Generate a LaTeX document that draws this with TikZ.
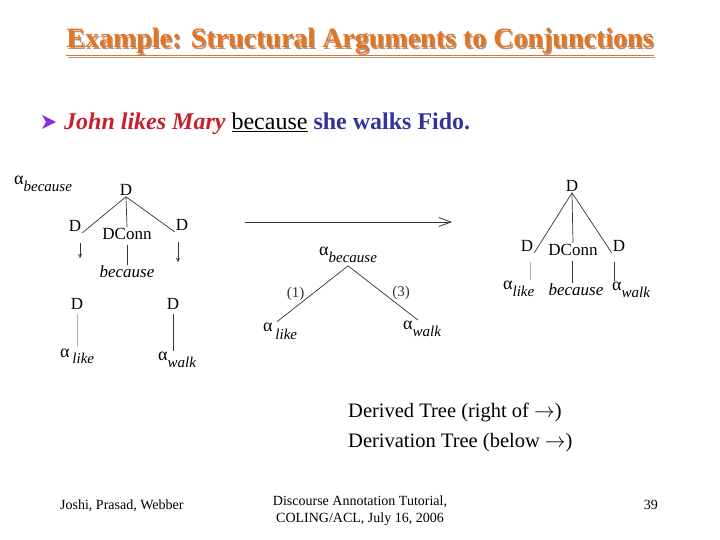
\documentclass[tikz,border=0pt]{standalone}
\usepackage{fontspec}
\setmainfont{Liberation Serif}
\usetikzlibrary{arrows.meta}
\definecolor{titleOrange}{HTML}{E8731E}
\definecolor{titleShadow}{HTML}{B09580}
\definecolor{sentRed}{HTML}{C8202A}
\definecolor{sentBlue}{HTML}{333399}
\definecolor{bulletPurple}{HTML}{8A2BE2}
\definecolor{treeGray}{HTML}{333333}
\definecolor{treeLight}{HTML}{B0B0B0}
\newcommand{\alphaSub}[1]{{\fontsize{18}{18}\selectfont α}\raisebox{-0.85ex}{\fontsize{15}{15}\selectfont\itshape #1}}
\tikzset{
  lbl/.style={inner sep=1pt, font=\fontsize{17}{17}\selectfont},
  lblIt/.style={inner sep=1pt, font=\fontsize{17}{17}\selectfont\itshape},
  lblNum/.style={inner sep=1pt, font=\fontsize{15}{15}\selectfont},
  edge/.style={treeGray, line width=0.7pt},
  edgeL/.style={treeLight, line width=0.7pt},
  footArr/.style={-{To[length=4pt,width=4pt]}, treeGray, line width=0.7pt},
  bigArr/.style={-{Straight Barb[length=12pt,width=9pt]}, treeGray, line width=0.8pt},
  noteTxt/.style={inner sep=0pt, font=\fontsize{20.5}{20.5}\selectfont, anchor=base west},
  footTxt/.style={inner sep=0pt, font=\fontsize{14}{17}\selectfont},
}
\begin{document}
\begin{tikzpicture}[x=1pt, y=-1pt]
  \useasboundingbox (0,0) rectangle (720,540);
  % title with shadow
  \node[titleShadow, font=\fontsize{28}{28}\selectfont\bfseries] (titleSh) at (361.5,43.5)
    {\underline{Example: Structural Arguments to Conjunctions}};
  \node[titleOrange, font=\fontsize{28}{28}\selectfont\bfseries] (title) at (360,42)
    {\underline{Example: Structural Arguments to Conjunctions}};
  % bullet sentence
  \fill[bulletPurple] (42,115) -- (56,122) -- (42,129) -- (46,122) -- cycle;
  \node[inner sep=0pt, anchor=base west, font=\fontsize{24}{24}\selectfont] (sent) at (64,130)
    {{\color{sentRed}\bfseries\itshape John likes Mary} \underline{because}
     {\color{sentBlue}\bfseries she walks Fido.}};

  % elementary tree alpha_because
  \node[lbl, anchor=west] (lAb) at (13,184) {\alphaSub{because}};
  \node[lbl] (lD) at (126,190) {D};
  \node[lbl] (lDl) at (75,226) {D};
  \node[lbl] (lDc) at (127,234) {DConn};
  \node[lbl] (lDr) at (182,225) {D};
  \node[lblIt] (lBec) at (127,272) {because};
  \draw[edge] (lD.south) -- (lDl.south east);
  \draw[edge] (lD.south) -- (lDc.north);
  \draw[edge] (lD.south) -- (lDr.south west);
  \draw[edge] ([yshift=-4pt]lDc.south) -- (lBec.north);
  \coordinate (lFootL) at (80,258);
  \coordinate (lFootR) at (178,262);
  \draw[footArr] ([shift={(5pt,-10pt)}]lDl.south) -- (lFootL);
  \draw[footArr] ([shift={(-4pt,-10pt)}]lDr.south) -- (lFootR);
  % elementary trees alpha_like, alpha_walk
  \node[lbl] (lD2l) at (77,304) {D};
  \node[lbl, anchor=west] (lAl) at (59,356) {{\fontsize{18}{18}\selectfont α}\,\raisebox{-0.8ex}{\fontsize{15}{15}\selectfont\itshape like}};
  \node[lbl] (lD2r) at (173,304) {D};
  \node[lbl, anchor=west] (lAw) at (157,360) {\alphaSub{walk}};
  \draw[edgeL] ([yshift=-3pt]lD2l.south) -- (lD2l.south |- lAl.north);
  \draw[edge] ([yshift=-3pt]lD2r.south) -- (lD2r.south |- lAw.north);

  % derivation arrow
  \coordinate (arrS) at (245,222);
  \coordinate (arrE) at (452,222);
  \draw[bigArr] (arrS) -- (arrE);

  % derivation tree
  \node[lbl, anchor=west] (mAb) at (318,255) {\alphaSub{because}};
  \node[lbl, anchor=west] (mAl) at (262,331) {{\fontsize{18}{18}\selectfont α}\,\raisebox{-1ex}{\fontsize{15}{15}\selectfont\itshape like}};
  \node[lbl, anchor=west] (mAw) at (402,329) {\alphaSub{walk}};
  \draw[edge] ([yshift=-2pt]mAb.south) -- node[lblNum, left=7pt] {(1)} ([xshift=-3pt]mAl.north);
  \draw[edge] ([yshift=-2pt]mAb.south) -- node[lblNum, right=8pt] {(3)} ([xshift=-4pt]mAw.north);

  % derived tree
  \node[lbl] (rD) at (572,186) {D};
  \node[lbl] (rDl) at (527,246) {D};
  \node[lbl] (rDc) at (573,250) {DConn};
  \node[lbl] (rDr) at (619,246) {D};
  \node[lbl, anchor=west] (rAl) at (502,289) {\alphaSub{like}};
  \node[lblIt] (rBec) at (576,290) {because};
  \node[lbl, anchor=west] (rAw) at (611,290) {\alphaSub{walk}};
  \draw[edge] (rD.south) -- (rDl.south east);
  \draw[edge] (rD.south) -- (rDc.north);
  \draw[edge] (rD.south) -- (rDr.south west);
  \draw[edgeL] ([shift={(3pt,-9pt)}]rDl.south) -- ([xshift=3pt]rDl.south |- rAl.north);
  \draw[edge] ([shift={(-1pt,-4pt)}]rDc.south) -- ([xshift=-1pt]rDc.south |- rBec.north);
  \draw[edge] ([shift={(-5pt,-9pt)}]rDr.south) -- ([xshift=-5pt]rDr.south |- rAw.north);

  % notes
  \node[noteTxt] (noteA) at (348,417) {Derived Tree (right of $\rightarrow$)};
  \node[noteTxt] (noteB) at (348,447) {Derivation Tree (below $\rightarrow$)};

  % footer
  \node[footTxt, anchor=base west] (footL) at (60,509) {Joshi, Prasad, Webber};
  \node[footTxt, anchor=north, align=center] (footC) at (360,496)
    {Discourse Annotation Tutorial,\\COLING/ACL, July 16, 2006};
  \node[footTxt, anchor=base east] (footR) at (658,509) {39};
\end{tikzpicture}
\end{document}
